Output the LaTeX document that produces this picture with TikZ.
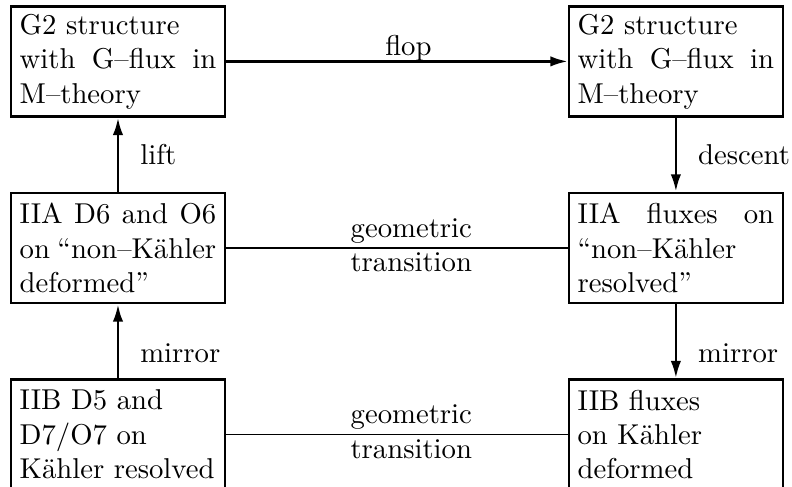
\documentclass[tikz,border=0pt]{standalone}
\usetikzlibrary{arrows.meta}
\begin{document}
\begin{tikzpicture}[>={Latex[length=6pt,width=3.6pt]},
  box/.style={draw, line width=0.9pt, text width=68.5pt, align=justify, inner xsep=3pt, inner ysep=2.4pt, minimum height=38.4pt},
  flow/.style={->, line width=0.9pt},
  trans/.style={line width=0.5pt}]
\useasboundingbox (-1.445, 0.752) rectangle (8.255, -5.212);
\node[box] at (0, 0) (g2l) {G2 structure\newline with G--flux in\linebreak M--theory};
\node[box] at (6.833, 0) (g2r) {G2 structure\newline with G--flux in\linebreak M--theory};
\node[box] at (0, -2.285) (iial) {IIA D6 and O6\linebreak on \mbox{``non--K\"ahler}\newline deformed''};
\node[box] at (6.833, -2.285) (iiar) {IIA fluxes on\linebreak \mbox{``non--K\"ahler}\newline resolved''};
\node[box] at (0, -4.57) (iibl) {IIB D5 and\newline D7/O7 on\newline \mbox{K\"ahler resolved}};
\node[box] at (6.833, -4.57) (iibr) {IIB fluxes\newline on K\"ahler\newline deformed};
\draw[flow] (g2l) -- node[anchor=base, xshift=4pt, yshift=2pt] {flop} (g2r);
\draw[flow] (iial) -- node[right=4pt] {lift} (g2l);
\draw[flow] (g2r) -- node[right=4pt] {descent} (iiar);
\draw[flow] (iibl) -- node[right=4pt, yshift=-4pt] {mirror} (iial);
\draw[flow] (iiar) -- node[right=4pt, yshift=-4pt] {mirror} (iibr);
\draw[trans] (iial) -- node[align=center, xshift=5pt, yshift=1pt] {geometric\\transition} (iiar);
\draw[trans] (iibl) -- node[align=center, xshift=5pt, yshift=1pt] {geometric\\transition} (iibr);
\end{tikzpicture}
\end{document}
